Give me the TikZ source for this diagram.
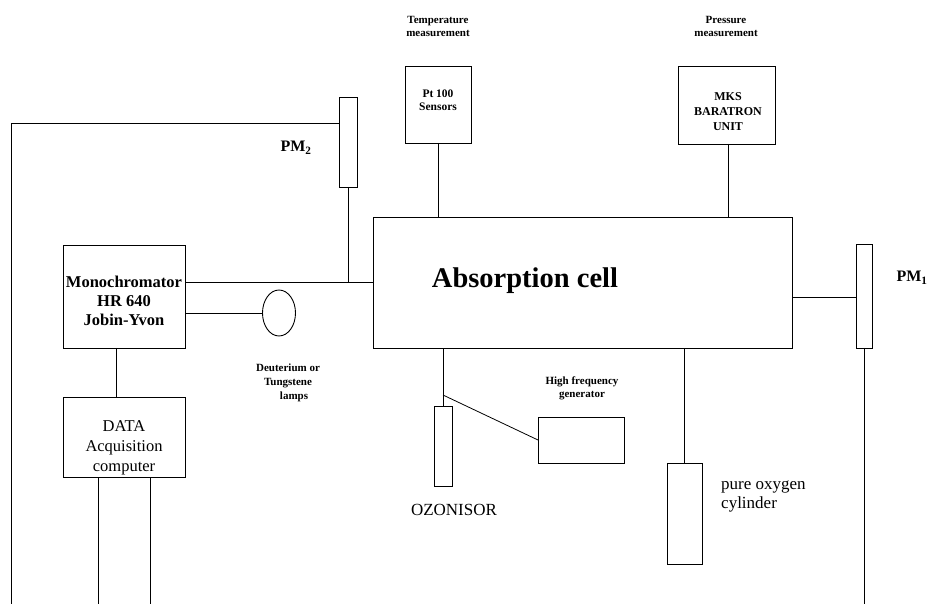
\documentclass[tikz,border=0pt]{standalone}
\usepackage{fontspec}
\setmainfont{Liberation Serif}
\usetikzlibrary{calc,shapes.geometric}
\tikzset{
  box/.style={draw, line width=0.9pt, inner sep=0pt, outer sep=0pt},
  wire/.style={line width=0.8pt},
  txt/.style={inner sep=0pt, align=center},
  fs/.style n args={2}{font=\fontsize{#1}{#2}\selectfont},
  fsb/.style n args={2}{font=\fontsize{#1}{#2}\selectfont\bfseries}
}
\begin{document}
\begin{tikzpicture}[x=1pt,y=-1pt]
\useasboundingbox (0,0) rectangle (930,604);
% boxes
\node[box, minimum width=122, minimum height=103] (mono) at (124,296.5) {};
\node[box, minimum width=122, minimum height=80] (data) at (124,437) {};
\node[box, minimum width=419, minimum height=131] (cell) at (582.5,283) {};
\node[box, minimum width=66, minimum height=77] (pt) at (438,104.5) {};
\node[box, minimum width=97, minimum height=78] (mks) at (726.5,105) {};
\node[box, minimum width=18, minimum height=90] (pm2) at (348,142) {};
\node[box, minimum width=16, minimum height=104] (pm1) at (864,296) {};
\node[draw, line width=0.9pt, ellipse, minimum width=33, minimum height=46, inner sep=0pt, outer sep=0pt] (lamp) at (279,313) {};
\node[box, minimum width=18, minimum height=80] (ozo) at (443,446) {};
\node[box, minimum width=86, minimum height=46] (hf) at (581,440) {};
\node[box, minimum width=35, minimum height=101] (oxy) at (684.5,513.5) {};
% coordinates
\coordinate (tl) at (11,123);
\coordinate (bl) at (11,604);
\coordinate (d1) at (98,604);
\coordinate (d2) at (150,604);
\coordinate (p1b) at (864,604);
\coordinate (junc) at (443,395);
\coordinate (ym) at (0,282);
\coordinate (yp1) at (0,297);
\coordinate (xmd) at (116,0);
\coordinate (xmks) at (728,0);
% texts
\node[txt, fsb={16.5}{19}] (monot) at (124,301) {Monochromator\\HR 640\\Jobin-Yvon};
\node[txt, fs={16.5}{20}] (datat) at (124,448) {DATA\\Acquisition\\computer};
\node[txt, fsb={28.5}{30}] (cellt) at (525,281) {Absorption cell};
\node[txt, fsb={11}{13}] (temp) at (438,26) {Temperature\\measurement};
\node[txt, fsb={11}{13}] (pres) at (726,26) {Pressure\\measurement};
\node[txt, fsb={11.5}{13}] (ptt) at (438,100) {Pt 100\\Sensors};
\node[txt, fsb={12}{15}] (mkst) at (728,112) {MKS\\BARATRON\\UNIT};
\node[txt, fsb={16}{18}] (pm2t) at (296,148) {PM\textsubscript{2}};
\node[txt, fsb={16}{18}] (pm1t) at (912,278) {PM\textsubscript{1}};
\node[txt, fsb={11}{14}] (lampt) at (288,383) {Deuterium or\\Tungstene\\\hspace*{12pt}lamps};
\node[txt, fsb={11}{13}] (hft) at (582,388) {High frequency\\generator};
\node[txt, fs={17}{19}] (ozot) at (454,510) {OZONISOR};
\node[txt, fs={17}{19}, align=left, anchor=west] (oxyt) at (721,496) {pure oxygen\\cylinder};
% wires
\draw[wire] (bl) -- (tl) -- (pm2.west |- tl);
\draw[wire] (pm2.south) -- (pm2.south |- ym);
\draw[wire] (mono.east |- ym) -- (cell.west |- ym);
\draw[wire] (mono.east |- lamp.west) -- (lamp.west);
\draw[wire] (mono.south -| xmd) -- (data.north -| xmd);
\draw[wire] (data.south -| d1) -- (d1);
\draw[wire] (data.south -| d2) -- (d2);
\draw[wire] (pt.south) -- (cell.north -| pt.south);
\draw[wire] (mks.south -| xmks) -- (cell.north -| xmks);
\draw[wire] (cell.east |- yp1) -- (pm1.west |- yp1);
\draw[wire] (pm1.south) -- (p1b);
\draw[wire] (cell.south -| ozo.north) -- (ozo.north);
\draw[wire] (junc) -- (hf.west);
\draw[wire] (cell.south -| oxy.north) -- (oxy.north);
\end{tikzpicture}
\end{document}
